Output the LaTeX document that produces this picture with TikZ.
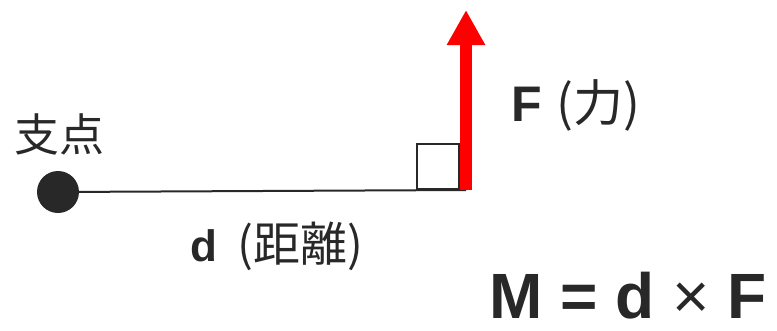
\documentclass[tikz,border=0pt]{standalone}
\usepackage{fontspec}
\setmainfont{Liberation Sans}
\newfontfamily\cjk{Noto Sans CJK JP}
\usepackage{xcolor}
\usetikzlibrary{arrows.meta,positioning}
\definecolor{levInk}{RGB}{40,40,40}
\definecolor{levForce}{RGB}{255,0,0}
\tikzset{
  pivotdot/.style={circle, fill=levInk, draw=none, minimum size=42pt, inner sep=0pt},
  leverline/.style={draw=levInk, line width=2pt},
  anglebox/.style={rectangle, draw=levInk, line width=2pt, minimum width=42pt, minimum height=45pt,
    inner sep=0pt, anchor=south east},
  forcearrow/.style={-{Triangle[length=35pt,width=36pt]}, draw=levForce, fill=levForce, line width=12pt},
  quantlabel/.style={text=levInk, inner sep=0pt},
}

\begin{document}
\begin{tikzpicture}[x=1pt,y=-1pt]
  \useasboundingbox (0,0) rectangle (777,330);

  % --- lever ---
  \node[pivotdot] (pivot) at (58,192) {};
  \coordinate (forcebase) at (466,190);
  \coordinate (forcetip) at (466,10);
  \draw[leverline] (pivot.center) -- (forcebase);
  \node[anglebox] (rightangle) at (460,190) {};
  \draw[forcearrow] (forcebase) -- (forcetip);

  % --- labels ---
  \node[quantlabel, font=\fontsize{45}{45}\selectfont\cjk] (pivotlabel) at (60,134) {支点};
  \node[quantlabel, font=\fontsize{50}{50}\selectfont] (forcelabel) at (576,105)
    {\textbf{F}\hspace{0.3em}{\cjk(力)}};
  \node[quantlabel, font=\fontsize{44}{44}\selectfont] (distlabel) at (277,246)
    {\textbf{d}\hspace{0.45em}{\fontsize{47}{47}\selectfont\cjk(距離)}};
  \node[quantlabel, font=\fontsize{64}{64}\selectfont] (momentlabel) at (628,296)
    {\textbf{M = d} × \textbf{F}};
\end{tikzpicture}
\end{document}
